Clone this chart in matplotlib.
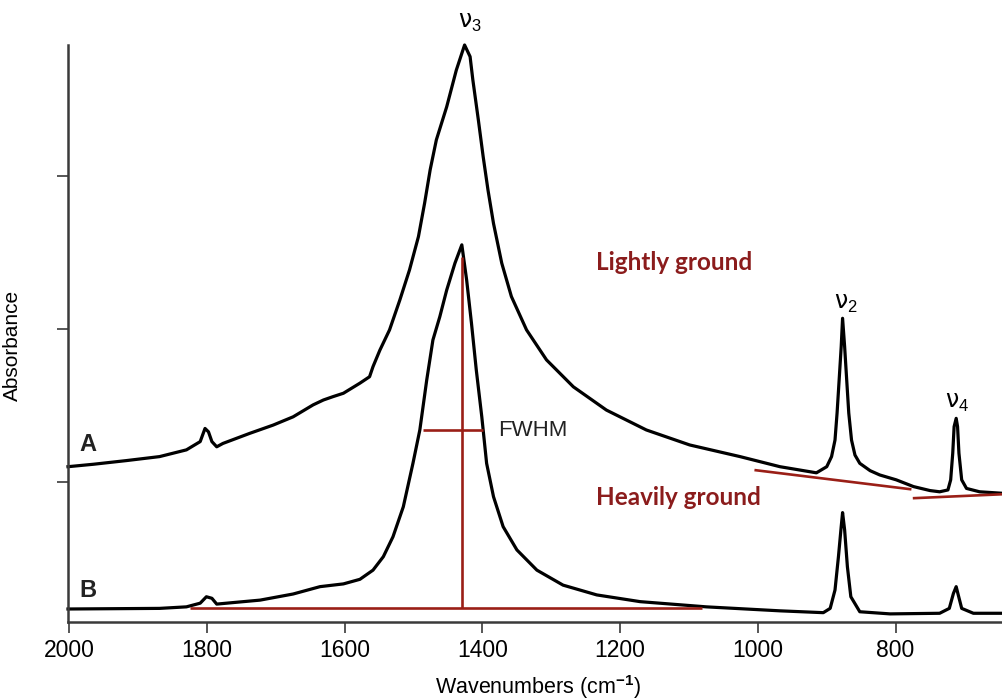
#!/usr/bin/env python3

import matplotlib
matplotlib.use("Agg")
import matplotlib.pyplot as plt

# Spectrum A (lightly ground): wavenumber (cm-1) / absorbance (a.u.)
wn_a = [2002, 1965, 1917, 1869, 1830, 1810, 1803, 1798, 1793, 1786, 1777, 1738,
        1704, 1675, 1646, 1631, 1617, 1602, 1578, 1564, 1559, 1549, 1535, 1520,
        1506, 1493, 1484, 1476, 1467, 1452, 1438, 1426, 1418, 1414, 1406, 1399,
        1392, 1384, 1372, 1358, 1336, 1307, 1268, 1220, 1162, 1099, 1026, 968,
        915, 900, 893, 888, 885, 882, 879, 877, 874, 871, 868, 864, 859, 852,
        837, 823, 799, 774, 750, 736, 724, 720, 717, 715, 712, 710, 708, 704,
        697, 678, 644]
abs_a = [0.550, 0.558, 0.570, 0.583, 0.605, 0.632, 0.675, 0.664, 0.632, 0.615,
         0.626, 0.659, 0.686, 0.713, 0.752, 0.768, 0.779, 0.790, 0.823, 0.844,
         0.877, 0.931, 0.997, 1.095, 1.193, 1.302, 1.412, 1.520, 1.618, 1.726,
         1.846, 1.928, 1.890, 1.814, 1.683, 1.563, 1.454, 1.345, 1.215, 1.106,
         0.997, 0.899, 0.811, 0.735, 0.670, 0.621, 0.583, 0.550,
         0.530, 0.550, 0.583, 0.637, 0.725, 0.833, 0.942, 1.035, 0.942, 0.833,
         0.725, 0.637, 0.588, 0.561, 0.537, 0.523, 0.507, 0.485, 0.472, 0.468,
         0.474, 0.507, 0.594, 0.681, 0.708, 0.681, 0.594, 0.507, 0.479, 0.468,
         0.463]

# Spectrum B (heavily ground)
wn_b = [2002, 1869, 1830, 1810, 1801, 1793, 1786, 1762, 1723, 1675, 1636, 1602,
        1578, 1559, 1544, 1530, 1515, 1501, 1491, 1481, 1472, 1462, 1452, 1440,
        1430, 1423, 1416, 1409, 1401, 1394, 1384, 1370, 1350, 1321, 1283, 1234,
        1171, 1075, 968, 905, 895, 888, 883, 879, 877, 874, 870, 865, 852, 808,
        736, 722, 716, 712, 709, 704, 687, 644]
abs_b = [0.085, 0.087, 0.092, 0.104, 0.125, 0.120, 0.101, 0.106, 0.114, 0.134,
         0.158, 0.167, 0.182, 0.212, 0.256, 0.321, 0.419, 0.561, 0.670, 0.833,
         0.964, 1.040, 1.127, 1.215, 1.275, 1.160, 1.019, 0.866, 0.713, 0.561,
         0.452, 0.354, 0.278, 0.212, 0.163, 0.131, 0.109, 0.092, 0.079, 0.073,
         0.087, 0.147, 0.256, 0.354, 0.400, 0.343, 0.223, 0.125, 0.076, 0.069,
         0.071, 0.087, 0.136, 0.158, 0.131, 0.087, 0.071, 0.071]

# Red guide lines: (wn0, wn1), (a0, a1)
baseline_b = ([1825, 1081], [0.088, 0.088])
peak_height = ([1430, 1430], [0.088, 1.235])
fwhm_line = ([1487, 1399], [0.670, 0.670])
baseline_a1 = ([1005, 777], [0.539, 0.476])
baseline_a2 = ([775, 644], [0.447, 0.460])

y_ticks = [0.5, 1.0, 1.5]
x_ticks = [2000, 1800, 1600, 1400, 1200, 1000, 800]

RED = "#9a1f17"
TXT_RED = "#8b1c1c"
AXC = "#3a3a3a"

plt.rcParams['font.family'] = ['Liberation Sans', 'DejaVu Sans']
plt.rcParams['mathtext.fontset'] = 'custom'
plt.rcParams['mathtext.rm'] = 'Liberation Sans'
plt.rcParams['mathtext.bf'] = 'Liberation Sans:bold'

fig = plt.figure(figsize=(10.03, 7.0), dpi=100)
ax = fig.add_axes([68 / 1003, 78 / 700, 935 / 1003, 577 / 700])

for xs, ys in [baseline_b, peak_height, fwhm_line, baseline_a1, baseline_a2]:
    ax.plot(xs, ys, color=RED, lw=1.9, solid_capstyle='butt', zorder=3)

ax.plot(wn_a, abs_a, color='black', lw=2.3, clip_on=False, zorder=2,
        solid_joinstyle='round')
ax.plot(wn_b, abs_b, color='black', lw=2.3, clip_on=False, zorder=2,
        solid_joinstyle='round')

ax.set_xlim(2002, 644)
ax.set_ylim(0.0425, 1.928)

for side in ['top', 'right']:
    ax.spines[side].set_visible(False)
for side in ['left', 'bottom']:
    ax.spines[side].set_color(AXC)
    ax.spines[side].set_linewidth(1.8)

ax.set_xticks(x_ticks)
ax.set_yticks(y_ticks)
ax.set_yticklabels([])
ax.tick_params(axis='both', direction='out', length=8, width=1.2, color=AXC)
ax.tick_params(axis='x', labelsize=16.5, pad=4)

ax.text(0.503, -0.113, 'Wavenumbers (cm$^{\\mathbf{-1}}$)', fontsize=15.5,
        ha='center', va='center', transform=ax.transAxes)
ax.set_ylabel('Absorbance', fontsize=15)
ax.yaxis.set_label_coords(-0.049, 0.48)

# peak labels
nu_font = ['DejaVu Sans']
ax.text(1418, 2.003, '\u03bd$_3$', fontsize=17, ha='center', va='center', family=nu_font)
ax.text(872, 1.085, '\u03bd$_2$', fontsize=17, ha='center', va='center', family=nu_font)
ax.text(710, 0.761, '\u03bd$_4$', fontsize=17, ha='center', va='center', family=nu_font)

ax.text(1121, 1.216, 'Lightly ground', fontsize=17.5, color=TXT_RED, fontweight='bold',
        ha='center', va='center', family=['Lato', 'DejaVu Sans'])
ax.text(1116, 0.448, 'Heavily ground', fontsize=17.5, color=TXT_RED, fontweight='bold',
        ha='center', va='center', family=['Lato', 'DejaVu Sans'])
ax.text(1378, 0.667, 'FWHM', fontsize=16, color='#222222', ha='left', va='center')
ax.text(1973, 0.624, 'A', fontsize=17, fontweight='bold', color='#222222', ha='center', va='center')
ax.text(1973, 0.147, 'B', fontsize=17, fontweight='bold', color='#222222', ha='center', va='center')

fig.savefig('out.png', dpi=100)
